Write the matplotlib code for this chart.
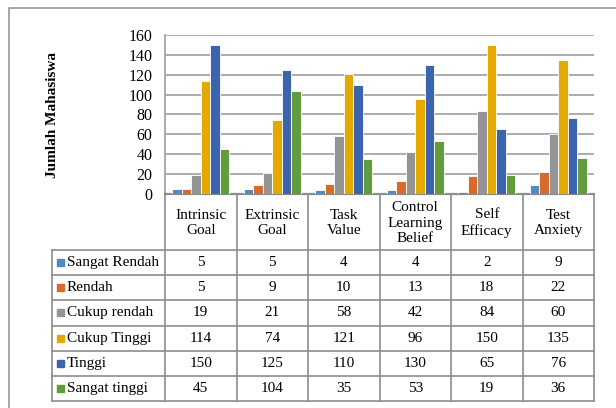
import matplotlib.pyplot as plt
import numpy as np

plt.rcParams['font.family'] = ['Liberation Serif', 'DejaVu Serif']

categories = ['Intrinsic\nGoal', 'Extrinsic\nGoal', 'Task\nValue',
              'Control\nLearning\nBelief', 'Self\nEfficacy', 'Test\nAnxiety']
series_names = ['Sangat Rendah', 'Rendah', 'Cukup rendah', 'Cukup Tinggi', 'Tinggi', 'Sangat tinggi']
sangat_rendah = [5, 5, 4, 4, 2, 9]
rendah = [5, 9, 10, 13, 18, 22]
cukup_rendah = [19, 21, 58, 42, 84, 60]
cukup_tinggi = [114, 74, 121, 96, 150, 135]
tinggi = [150, 125, 110, 130, 65, 76]
sangat_tinggi = [45, 104, 35, 53, 19, 36]
y_ticks = [0, 20, 40, 60, 80, 100, 120, 140, 160]

series = [sangat_rendah, rendah, cukup_rendah, cukup_tinggi, tinggi, sangat_tinggi]
colors = ['#4f8bc4', '#d86a2b', '#949494', '#e3a900', '#3c63ad', '#629b3e']

W, H = 616, 408
fig = plt.figure(figsize=(W / 100, H / 100), dpi=100)

# overlay in pixel coords for border + data table
ov = fig.add_axes([0, 0, 1, 1])
ov.set_xlim(0, W)
ov.set_ylim(H, 0)
ov.axis('off')

# plot area (pixels)
px0, px1, py_top, py_zero = 165, 594, 35, 194
ax = fig.add_axes([px0 / W, 1 - py_zero / H, (px1 - px0) / W, (py_zero - py_top) / H])
ax.set_zorder(2)

n = len(categories)
k = len(series)
bw = 0.8 / k
x = np.arange(n)
for j, (vals, name, c) in enumerate(zip(series, series_names, colors)):
    ax.bar(x - 0.4 + bw * (j + 0.5), vals, width=bw, color=c, edgecolor='white',
           linewidth=0.6, label=name, zorder=3)

ax.set_xlim(-0.5, n - 0.5)
ax.set_ylim(0, 160)
ax.set_yticks(y_ticks)
ax.tick_params(axis='y', length=0, pad=9, labelsize=11.5)
ax.set_xticks([])
ax.grid(axis='y', color='#a6a6a6', linewidth=1.3, zorder=0)
for s in ['top', 'right']:
    ax.spines[s].set_visible(False)
ax.spines['left'].set_color('#a6a6a6')
ax.spines['left'].set_linewidth(1.3)
ax.spines['bottom'].set_color('#8c8c8c')
ax.spines['bottom'].set_linewidth(1.6)
ax.set_ylabel('Jumlah Mahasiswa', fontweight='bold', fontsize=11, labelpad=50)

# outer chart border
ov.plot([9, 9, W + 5], [H + 5, 8, 8], color='#a0a0a0', lw=1.3)

# data table
lc = '#8c8c8c'
tl = 52
colw = (px1 - px0) / n
hdr_bot = 250
rowh = (401 - hdr_bot) / k
table_bot = hdr_bot + rowh * k
for i in range(n + 1):
    xx = px0 + i * colw
    ov.plot([xx, xx], [py_zero, table_bot], color=lc, lw=1.2)
ov.plot([tl, tl], [hdr_bot, table_bot], color=lc, lw=1.2)
for r in range(k + 1):
    yy = hdr_bot + r * rowh
    ov.plot([tl, px1], [yy, yy], color=lc, lw=1.2)

for i, cat in enumerate(categories):
    ov.text(px0 + (i + 0.5) * colw, (py_zero + hdr_bot) / 2 + 1, cat, ha='center', va='center',
            fontsize=11, linespacing=1.25)

for r, (vals, name, c) in enumerate(zip(series, series_names, colors)):
    yc = hdr_bot + (r + 0.5) * rowh
    ov.add_patch(plt.Rectangle((57, yc - 3.5), 7, 7, color=c))
    ov.text(67, yc, name, ha='left', va='center', fontsize=11)
    for i, v in enumerate(vals):
        ov.text(px0 + (i + 0.5) * colw, yc, str(v), ha='center', va='center', fontsize=11)

fig.savefig('out.png', dpi=100)
